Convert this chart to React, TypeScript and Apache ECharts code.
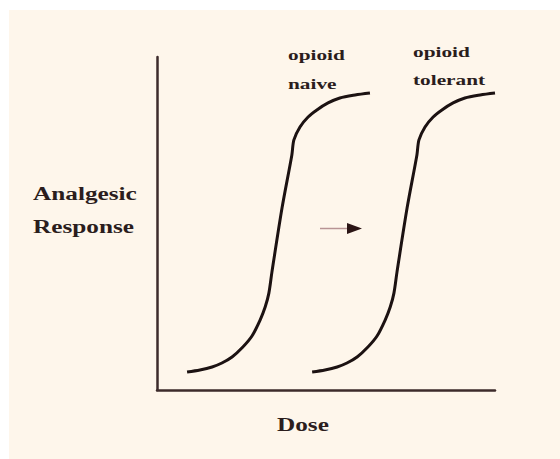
import React, { useEffect, useRef } from "react";
import * as echarts from "echarts";

// Dose (x, 0–100) and analgesic response (y, 0–100)
const naiveDose = [8.9, 12.7, 16.3, 19.2, 22.2, 25.4, 28.1, 30.5, 32.0, 33.1, 34.0, 37.0, 39.9, 40.5, 42.3, 44.7, 47.3, 50.6, 54.1, 58.6, 63.0];
const naiveResponse = [5.4, 6.0, 6.9, 8.1, 9.9, 12.9, 16.2, 21.0, 24.9, 29.1, 35.4, 54.7, 70.6, 75.1, 79.0, 82.0, 84.1, 86.2, 87.7, 88.6, 89.2];
const tolerantDose = [45.9, 49.7, 53.3, 56.2, 59.2, 62.4, 65.1, 67.5, 69.0, 70.1, 71.0, 74.0, 76.9, 77.5, 79.3, 81.7, 84.3, 87.6, 91.1, 95.6, 100.0];
const tolerantResponse = [5.4, 6.0, 6.9, 8.1, 9.9, 12.9, 16.2, 21.0, 24.9, 29.1, 35.4, 54.7, 70.6, 75.1, 79.0, 82.0, 84.1, 86.2, 87.7, 88.6, 89.2];

const yLabelLines = ["Analgesic", "Response"];
const xLabel = "Dose";
const naiveLabel = ["opioid", "naive"];
const tolerantLabel = ["opioid", "tolerant"];

const ink = "#2b1d1d";
const bigFont = "bold 19px 'Liberation Serif', 'Times New Roman', serif";
const smallFont = "bold 15px 'Liberation Serif', 'Times New Roman', serif";

function pairs(xs: number[], ys: number[]) {
  return xs.map((x, i) => [x, ys[i]]);
}

function txt(text: string, x: number, y: number, font: string, sx: number) {
  return {
    type: "text",
    x,
    y,
    scaleX: sx,
    z: 10,
    style: { text, font, fill: ink, textAlign: "left", textVerticalAlign: "middle", verticalAlign: "middle" },
  };
}

export default function App() {
  const ref = useRef<HTMLDivElement>(null);
  useEffect(() => {
    if (!ref.current) return;
    const chart = echarts.init(ref.current, null, { renderer: "svg" });
    chart.setOption({
      animation: false,
      backgroundColor: "#ffffff",
      grid: { left: 157, right: 65, top: 57, bottom: 69 },
      xAxis: {
        type: "value",
        min: 0,
        max: 100,
        axisLine: { show: true, lineStyle: { color: "#3d2b2b", width: 2.5 } },
        axisTick: { show: false },
        axisLabel: { show: false },
        splitLine: { show: false },
      },
      yAxis: {
        type: "value",
        min: 0,
        max: 100,
        axisLine: { show: true, lineStyle: { color: "#3d2b2b", width: 2.5 } },
        axisTick: { show: false },
        axisLabel: { show: false },
        splitLine: { show: false },
      },
      series: [
        {
          type: "line",
          name: "opioid naive",
          data: pairs(naiveDose, naiveResponse),
          showSymbol: false,
          smooth: 0.3,
          lineStyle: { color: "#1c1212", width: 3 },
          z: 5,
        },
        {
          type: "line",
          name: "opioid tolerant",
          data: pairs(tolerantDose, tolerantResponse),
          showSymbol: false,
          smooth: 0.3,
          lineStyle: { color: "#1c1212", width: 3 },
          z: 5,
        },
      ],
      graphic: [
        {
          type: "rect",
          z: -100,
          shape: { x: 9, y: 10, width: 551, height: 449 },
          style: { fill: "#fef6eb" },
          silent: true,
        },
        txt(yLabelLines[0], 33, 194, bigFont, 1.33),
        txt(yLabelLines[1], 33, 227, bigFont, 1.33),
        txt(xLabel, 277, 425, bigFont, 1.33),
        txt(naiveLabel[0], 288, 55, smallFont, 1.42),
        txt(naiveLabel[1], 288, 84, smallFont, 1.42),
        txt(tolerantLabel[0], 413, 52, smallFont, 1.42),
        txt(tolerantLabel[1], 413, 80, smallFont, 1.42),
        {
          type: "line",
          z: 10,
          shape: { x1: 320, y1: 228.5, x2: 350, y2: 228.5 },
          style: { stroke: "#b89494", lineWidth: 1.5 },
        },
        {
          type: "polygon",
          z: 10,
          shape: { points: [[347, 223], [362, 228.5], [347, 234]] },
          style: { fill: "#2b1515" },
        },
      ],
    });
    return () => chart.dispose();
  }, []);
  return (
    <div
      ref={ref}
      style={{ position: "fixed", left: 0, top: 0, width: 560, height: 459 }}
    />
  );
}
